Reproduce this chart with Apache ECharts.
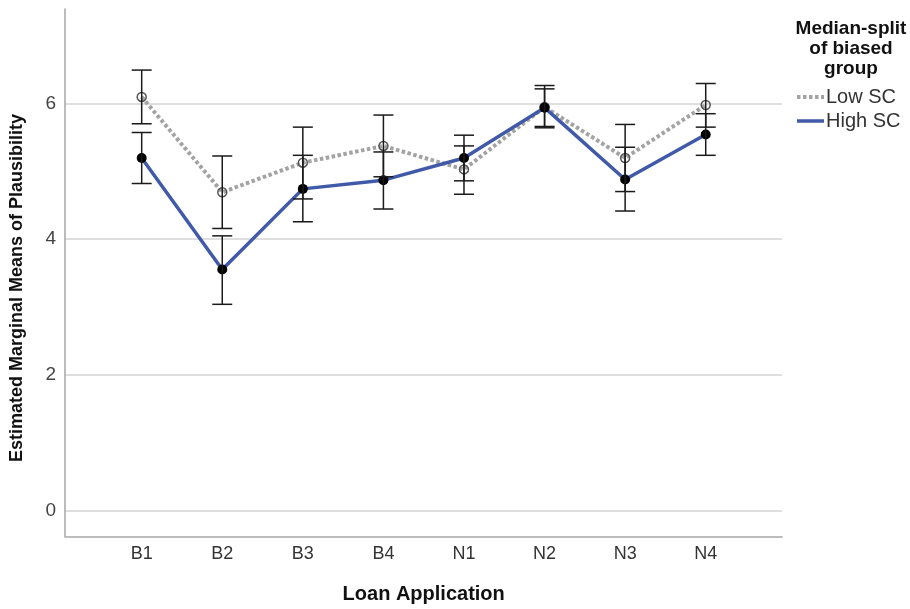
<!DOCTYPE html>
<html>
<head>
<meta charset="utf-8">
<script src="https://cdn.jsdelivr.net/npm/echarts@6/dist/echarts.min.js"></script>
<style>html,body{margin:0;padding:0;background:#fff}#c{width:910px;height:609px}</style>
</head>
<body>
<div id="c"></div>
<script>
const categories = ['B1','B2','B3','B4','N1','N2','N3','N4'];
const lowSC      = [6.08, 4.66, 5.10, 5.35, 5.00, 5.93, 5.17, 5.96];
const lowSCLo    = [5.68, 4.12, 4.56, 4.89, 4.63, 5.62, 4.67, 5.63];
const lowSCHi    = [6.48, 5.20, 5.63, 5.81, 5.35, 6.25, 5.67, 6.28];
const highSC     = [5.17, 3.51, 4.71, 4.84, 5.17, 5.92, 4.85, 5.52];
const highSCLo   = [4.79, 2.99, 4.22, 4.41, 4.83, 5.64, 4.38, 5.21];
const highSCHi   = [5.55, 4.01, 5.21, 5.26, 5.51, 6.20, 5.33, 5.83];
const yTicks     = [0, 2, 4, 6];
const legendTitle = 'Median-split\nof biased\ngroup';
const seriesNames = ['Low SC', 'High SC'];

const FONT = '"Liberation Sans", Arial, sans-serif';
const yMax = 7.39;

const lowLine  = { color: '#a3a3a3', width: 4, type: [3.5, 2.5] };
const highLine = { color: '#4059a9', width: 3.5 };

function errData(lo, hi) { return categories.map((c, i) => [i, lo[i], hi[i]]); }

function renderErr(params, api) {
  const x = api.value(0);
  const p1 = api.coord([x, api.value(1)]);
  const p2 = api.coord([x, api.value(2)]);
  const hw = 10;
  const st = { stroke: '#1a1a1a', lineWidth: 1.5 };
  return { type: 'group', children: [
    { type: 'line', shape: { x1: p1[0], y1: p1[1], x2: p2[0], y2: p2[1] }, style: st },
    { type: 'line', shape: { x1: p1[0]-hw, y1: p1[1], x2: p1[0]+hw, y2: p1[1] }, style: st },
    { type: 'line', shape: { x1: p2[0]-hw, y1: p2[1], x2: p2[0]+hw, y2: p2[1] }, style: st }
  ]};
}

const chart = echarts.init(document.getElementById('c'));
chart.setOption({
  animation: false,
  textStyle: { fontFamily: FONT },
  grid: [
    { left: 101.4, width: 644.6, top: 9, height: 501.3 },   // data
    { left: 65, width: 717, top: 9, height: 527.3 },        // frame lines
    { left: 65, width: 717, top: 9, height: 501.3 }         // gridlines + y labels
  ],
  xAxis: [
    { gridIndex: 0, type: 'category', data: categories, boundaryGap: true, position: 'bottom', offset: 26,
      axisLine: { show: false }, axisTick: { show: false },
      axisLabel: { color: '#333', fontSize: 18, margin: 14, fontFamily: FONT },
      name: 'Loan Application', nameLocation: 'middle', nameGap: 53,
      nameTextStyle: { color: '#111', fontSize: 20, fontWeight: 'bold', fontFamily: FONT } },
    { gridIndex: 1, type: 'value', min: 0, max: 1,
      axisLine: { show: true, lineStyle: { color: '#a6a6a6', width: 1.5 } },
      axisTick: { show: false }, axisLabel: { show: false }, splitLine: { show: false } },
    { gridIndex: 2, type: 'value', min: 0, max: 1, show: false }
  ],
  yAxis: [
    { gridIndex: 0, type: 'value', min: 0, max: yMax, show: false },
    { gridIndex: 1, type: 'value', min: 0, max: 1,
      axisLine: { show: true, lineStyle: { color: '#a6a6a6', width: 1.5 } },
      axisTick: { show: false }, axisLabel: { show: false }, splitLine: { show: false } },
    { gridIndex: 2, type: 'value', min: yTicks[0], max: yMax, interval: yTicks[1] - yTicks[0],
      axisLine: { show: false }, axisTick: { show: false },
      axisLabel: { color: '#444', fontSize: 19, margin: 9, showMaxLabel: false, fontFamily: FONT,
        formatter: v => (yTicks.indexOf(v) >= 0 ? String(v) : '') },
      splitLine: { show: true, showMaxLine: false, lineStyle: { color: '#d4d4d4', width: 1.5 } } }
  ],
  legend: {
    orient: 'vertical', left: 790, top: 82, itemWidth: 27, itemHeight: 14, itemGap: 4,
    data: [
      { name: seriesNames[0], lineStyle: lowLine },
      { name: seriesNames[1], lineStyle: highLine }
    ],
    itemStyle: { opacity: 0 },
    textStyle: { color: '#333', fontSize: 20, fontFamily: FONT, padding: [0, 0, 0, -3] }
  },
  graphic: [
    { type: 'text', x: 851, y: 19, style: { text: legendTitle, fill: '#111',
      font: 'bold 19px ' + FONT, align: 'center', verticalAlign: 'top', lineHeight: 20 } },
    { type: 'text', x: 8, y: 288, rotation: Math.PI / 2, style: { text: 'Estimated Marginal Means of Plausibility',
      fill: '#111', font: 'bold 18px ' + FONT, align: 'center', verticalAlign: 'top' } }
  ],
  series: [
    { name: seriesNames[0], type: 'line', xAxisIndex: 0, yAxisIndex: 0, data: lowSC, z: 3,
      lineStyle: lowLine,
      symbol: 'circle', symbolSize: 9,
      itemStyle: { color: 'rgba(255,255,255,0)', borderColor: '#555', borderWidth: 1.5 } },
    { name: seriesNames[1], type: 'line', xAxisIndex: 0, yAxisIndex: 0, data: highSC, z: 4,
      lineStyle: highLine,
      symbol: 'circle', symbolSize: 10,
      itemStyle: { color: '#000', borderColor: '#000', borderWidth: 0 } },
    { type: 'custom', xAxisIndex: 0, yAxisIndex: 0, data: errData(lowSCLo, lowSCHi), renderItem: renderErr,
      encode: { x: 0, y: [1, 2] }, z: 5, silent: true },
    { type: 'custom', xAxisIndex: 0, yAxisIndex: 0, data: errData(highSCLo, highSCHi), renderItem: renderErr,
      encode: { x: 0, y: [1, 2] }, z: 5, silent: true }
  ]
});
</script>
</body>
</html>
